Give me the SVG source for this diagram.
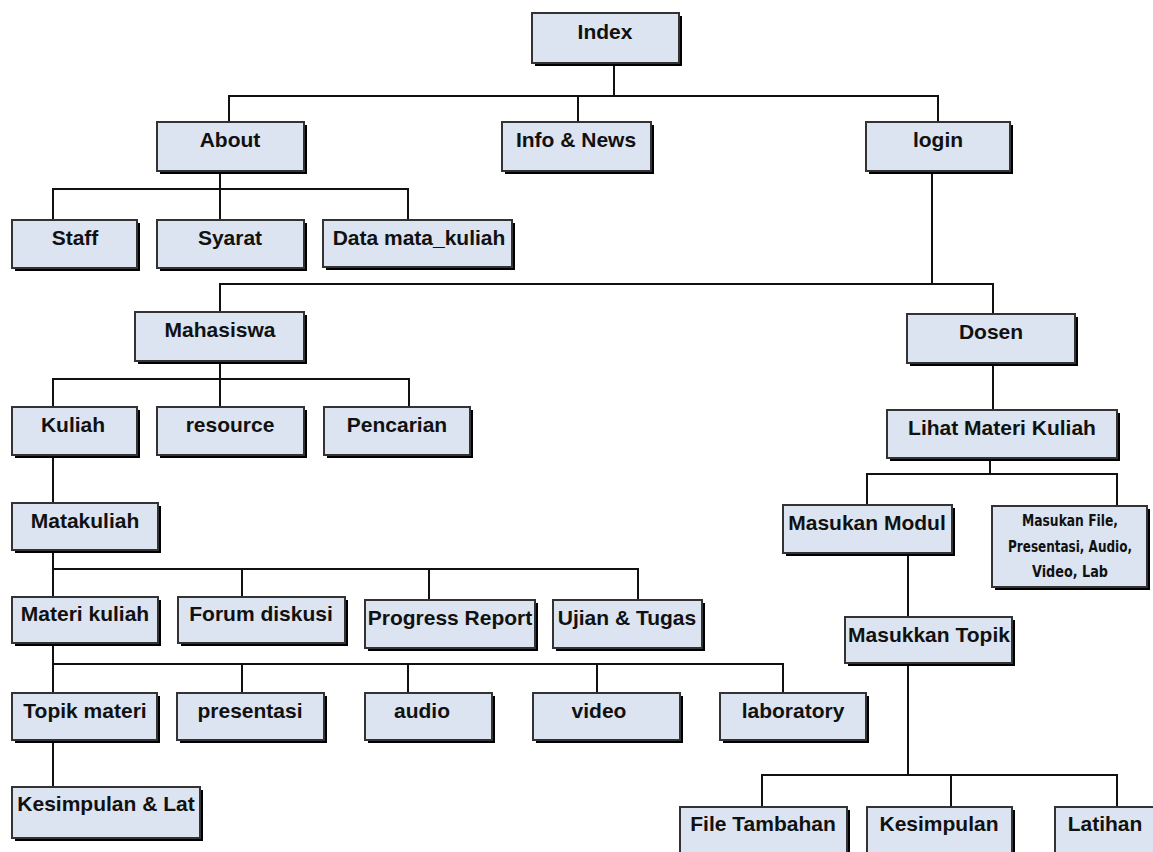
<svg xmlns="http://www.w3.org/2000/svg" width="1153" height="852" viewBox="0 0 1153 852">
<style>
.sh{fill:#000}
.bx{fill:#dbe4f0;stroke:#333;stroke-width:2}
.t{font-family:"Liberation Sans",Arial,sans-serif;font-weight:bold;font-size:21px;fill:#111;text-anchor:middle}
.tn{font-family:"Liberation Sans Narrow","DejaVu Sans Condensed","Liberation Sans",sans-serif;font-weight:bold;font-size:16px;fill:#111;text-anchor:middle}
.c{fill:none;stroke:#111;stroke-width:2}
</style>
<rect width="1153" height="852" fill="#fff"/>
<g id="connectors">
<path class="c" d="M614 63V96M229 122V96H938V122M578 96V122"/>
<path class="c" d="M220 171V189M53 220V189H408V220M220 189V220"/>
<path class="c" d="M932 171V284M220 312V284H993V314"/>
<path class="c" d="M220 361V379M53 407V379H409V407M220 379V407"/>
<path class="c" d="M993 363V410"/>
<path class="c" d="M990 458V474M867 505V474H1117V506"/>
<path class="c" d="M53 455V503"/>
<path class="c" d="M53 550V597M53 569H638V600M242 569V597M429 569V600"/>
<path class="c" d="M908 553V617"/>
<path class="c" d="M53 643V693M53 664H783V693M242 664V693M408 664V693M597 664V693"/>
<path class="c" d="M53 740V787"/>
<path class="c" d="M908 663V775M762 807V775H1117V807M951 775V807"/>
</g>
<g id="n-index"><rect class="sh" x="535" y="16" width="147" height="50"/><rect class="bx" x="532" y="13" width="147" height="50"/><text class="t" x="605" y="39">Index</text></g>
<g id="n-about"><rect class="sh" x="160" y="125" width="147" height="49"/><rect class="bx" x="157" y="122" width="147" height="49"/><text class="t" x="230" y="147">About</text></g>
<g id="n-info"><rect class="sh" x="505" y="125" width="149" height="49"/><rect class="bx" x="502" y="122" width="149" height="49"/><text class="t" x="576" y="147">Info &amp; News</text></g>
<g id="n-login"><rect class="sh" x="869" y="125" width="144" height="49"/><rect class="bx" x="866" y="122" width="144" height="49"/><text class="t" x="938" y="147">login</text></g>
<g id="n-staff"><rect class="sh" x="15" y="223" width="125" height="48"/><rect class="bx" x="12" y="220" width="125" height="48"/><text class="t" x="75" y="245">Staff</text></g>
<g id="n-syarat"><rect class="sh" x="160" y="223" width="147" height="48"/><rect class="bx" x="157" y="220" width="147" height="48"/><text class="t" x="230" y="245">Syarat</text></g>
<g id="n-data"><rect class="sh" x="326" y="223" width="189" height="47"/><rect class="bx" x="323" y="220" width="189" height="47"/><text class="t" x="419" y="245">Data mata_kuliah</text></g>
<g id="n-mahasiswa"><rect class="sh" x="138" y="315" width="169" height="49"/><rect class="bx" x="135" y="312" width="169" height="49"/><text class="t" x="220" y="337">Mahasiswa</text></g>
<g id="n-dosen"><rect class="sh" x="910" y="317" width="168" height="49"/><rect class="bx" x="907" y="314" width="168" height="49"/><text class="t" x="991" y="339">Dosen</text></g>
<g id="n-kuliah"><rect class="sh" x="15" y="410" width="125" height="48"/><rect class="bx" x="12" y="407" width="125" height="48"/><text class="t" x="73" y="432">Kuliah</text></g>
<g id="n-resource"><rect class="sh" x="160" y="410" width="147" height="48"/><rect class="bx" x="157" y="407" width="147" height="48"/><text class="t" x="230" y="432">resource</text></g>
<g id="n-pencarian"><rect class="sh" x="327" y="410" width="146" height="48"/><rect class="bx" x="324" y="407" width="146" height="48"/><text class="t" x="397" y="432">Pencarian</text></g>
<g id="n-lihat"><rect class="sh" x="890" y="413" width="230" height="48"/><rect class="bx" x="887" y="410" width="230" height="48"/><text class="t" x="1002" y="435">Lihat Materi Kuliah</text></g>
<g id="n-matakuliah"><rect class="sh" x="15" y="506" width="146" height="47"/><rect class="bx" x="12" y="503" width="146" height="47"/><text class="t" x="85" y="528">Matakuliah</text></g>
<g id="n-masukan-modul"><rect class="sh" x="786" y="508" width="169" height="48"/><rect class="bx" x="783" y="505" width="169" height="48"/><text class="t" x="867" y="530">Masukan Modul</text></g>
<g id="n-masukan-file"><rect class="sh" x="995" y="509" width="155" height="81"/><rect class="bx" x="992" y="506" width="155" height="81"/>
<text class="tn" x="1070" y="526" textLength="96" lengthAdjust="spacingAndGlyphs">Masukan File,</text>
<text class="tn" x="1070" y="552" textLength="124" lengthAdjust="spacingAndGlyphs">Presentasi, Audio,</text>
<text class="tn" x="1070" y="577" textLength="76" lengthAdjust="spacingAndGlyphs">Video, Lab</text></g>
<g id="n-materi"><rect class="sh" x="15" y="600" width="146" height="46"/><rect class="bx" x="12" y="597" width="146" height="46"/><text class="t" x="85" y="621">Materi kuliah</text></g>
<g id="n-forum"><rect class="sh" x="181" y="600" width="167" height="46"/><rect class="bx" x="178" y="597" width="167" height="46"/><text class="t" x="261" y="621">Forum diskusi</text></g>
<g id="n-progress"><rect class="sh" x="368" y="603" width="170" height="48"/><rect class="bx" x="365" y="600" width="170" height="48"/><text class="t" x="450" y="625">Progress Report</text></g>
<g id="n-ujian"><rect class="sh" x="556" y="603" width="149" height="48"/><rect class="bx" x="553" y="600" width="149" height="48"/><text class="t" x="627" y="625">Ujian &amp; Tugas</text></g>
<g id="n-topik-masuk"><rect class="sh" x="848" y="620" width="167" height="46"/><rect class="bx" x="845" y="617" width="167" height="46"/><text class="t" x="929" y="642">Masukkan Topik</text></g>
<g id="n-topik"><rect class="sh" x="15" y="696" width="145" height="47"/><rect class="bx" x="12" y="693" width="145" height="47"/><text class="t" x="85" y="718">Topik materi</text></g>
<g id="n-presentasi"><rect class="sh" x="180" y="696" width="147" height="47"/><rect class="bx" x="177" y="693" width="147" height="47"/><text class="t" x="250" y="718">presentasi</text></g>
<g id="n-audio"><rect class="sh" x="368" y="696" width="127" height="47"/><rect class="bx" x="365" y="693" width="127" height="47"/><text class="t" x="422" y="718">audio</text></g>
<g id="n-video"><rect class="sh" x="536" y="696" width="147" height="47"/><rect class="bx" x="533" y="693" width="147" height="47"/><text class="t" x="599" y="718">video</text></g>
<g id="n-laboratory"><rect class="sh" x="723" y="696" width="146" height="47"/><rect class="bx" x="720" y="693" width="146" height="47"/><text class="t" x="793" y="718">laboratory</text></g>
<g id="n-kesimpulan-lat"><rect class="sh" x="15" y="790" width="188" height="51"/><rect class="bx" x="12" y="787" width="188" height="51"/><text class="t" x="106" y="811">Kesimpulan &amp; Lat</text></g>
<g id="n-file-tambahan"><rect class="sh" x="683" y="810" width="167" height="50"/><rect class="bx" x="680" y="807" width="167" height="50"/><text class="t" x="763" y="831">File Tambahan</text></g>
<g id="n-kesimpulan"><rect class="sh" x="870" y="810" width="145" height="50"/><rect class="bx" x="867" y="807" width="145" height="50"/><text class="t" x="939" y="831">Kesimpulan</text></g>
<g id="n-latihan"><rect class="sh" x="1058" y="810" width="100" height="50"/><rect class="bx" x="1055" y="807" width="100" height="50"/><text class="t" x="1105" y="831">Latihan</text></g>
</svg>
